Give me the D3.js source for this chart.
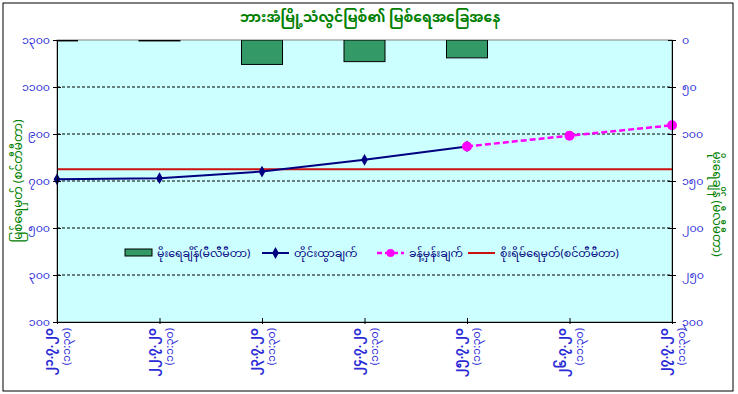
<!DOCTYPE html>
<html>
<head>
<meta charset="utf-8">
<script src="https://cdn.jsdelivr.net/npm/d3@7"></script>
<style>
  body { margin: 0; background: #fff; }
  svg text { font-family: "Noto Sans Myanmar", "Padauk", "Myanmar Text", "DejaVu Sans", sans-serif; }
</style>
</head>
<body>
<script>
// chart values
const dates = ['၂၁.၇.၂၀', '၂၂.၇.၂၀', '၂၃.၇.၂၀', '၂၄.၇.၂၀', '၂၅.၇.၂၀', '၂၆.၇.၂၀', '၂၇.၇.၂၀'];
const times = ['(၁၁:၃၀)', '(၁၁:၃၀)', '(၁၁:၃၀)', '(၁၁:၃၀)', '(၁၁:၃၀)', '(၁၁:၃၀)', '(၁၁:၃၀)'];
const rainfall = [1, 1, 26, 23, 19, null, null];       // mm, right axis
const observed = [707, 712, 740, 790, 847, null, null]; // cm
const forecast = [null, null, null, null, 847, 893, 937];
const dangerLevel = 750;
const leftTicks = [100, 300, 500, 700, 900, 1100, 1300];
const rightTicks = [0, 50, 100, 150, 200, 250, 300];
const seriesNames = ['မိုးရေချိန်(မီလီမီတာ)', 'တိုင်းထွာချက်', 'ခန့်မှန်းချက်', 'စိုးရိမ်ရေမှတ်(စင်တီမီတာ)'];
const title = 'ဘားအံမြို့သံလွင်မြစ်၏ မြစ်ရေအခြေအနေ';
const leftTitle = 'မြစ်ရေမှတ် (စင်တီမီတာ)';
const rightTitle = 'မိုးရေချိန် (မီလီမီတာ)';

const mm = n => String(n).replace(/[0-9]/g, d => String.fromCharCode(0x1040 + +d));

const width = 738, height = 394;
const margin = { top: 40, right: 66, bottom: 72, left: 57 };
const plotW = width - margin.left - margin.right;
const plotH = height - margin.top - margin.bottom;

const svg = d3.select('body').append('svg')
  .attr('width', width)
  .attr('height', height);

// outer frame
svg.append('rect')
  .attr('x', 3).attr('y', 3)
  .attr('width', 730).attr('height', 388)
  .attr('fill', '#fff')
  .attr('stroke', '#000')
  .attr('stroke-width', 1);

svg.append('text')
  .attr('x', 370).attr('y', 22)
  .attr('text-anchor', 'middle')
  .attr('fill', '#008000')
  .style('font-size', '14px')
  .style('font-weight', 'bold')
  .text(title);

const chart = svg.append('g')
  .attr('transform', `translate(${margin.left},${margin.top})`);

const x = d3.scalePoint()
  .domain(d3.range(dates.length))
  .range([0, plotW])
  .padding(0);

const yLeft = d3.scaleLinear().domain([100, 1300]).range([plotH, 0]);
const yRight = d3.scaleLinear().domain([0, 300]).range([0, plotH]);

chart.append('rect')
  .attr('width', plotW).attr('height', plotH)
  .attr('fill', '#ccffff')
  .attr('stroke', '#808080');

chart.append('clipPath').attr('id', 'plotclip')
  .append('rect').attr('width', plotW).attr('height', plotH);

// dashed gridlines
chart.append('g')
  .selectAll('line')
  .data(leftTicks.slice(1, -1))
  .join('line')
  .attr('x1', 0).attr('x2', plotW)
  .attr('y1', d => yLeft(d)).attr('y2', d => yLeft(d))
  .attr('stroke', '#000')
  .attr('stroke-dasharray', '3,2')
  .attr('stroke-width', 1);

// rainfall bars hanging from the top
const barW = 41;
chart.append('g')
  .attr('clip-path', 'url(#plotclip)')
  .selectAll('rect')
  .data(rainfall.map((v, i) => ({ i, v })).filter(d => d.v != null))
  .join('rect')
  .attr('x', d => x(d.i) - barW / 2)
  .attr('y', 0)
  .attr('width', barW)
  .attr('height', d => yRight(d.v))
  .attr('fill', '#339966')
  .attr('stroke', '#000')
  .attr('stroke-width', 1);

// danger level
chart.append('line')
  .attr('x1', 0).attr('x2', plotW)
  .attr('y1', yLeft(dangerLevel)).attr('y2', yLeft(dangerLevel))
  .attr('stroke', '#cc1111')
  .attr('stroke-width', 2);

const line = d3.line()
  .defined(d => d.v != null)
  .x(d => x(d.i))
  .y(d => yLeft(d.v));

const obsData = observed.map((v, i) => ({ i, v }));
const fcData = forecast.map((v, i) => ({ i, v }));

chart.append('path')
  .datum(fcData)
  .attr('d', line)
  .attr('fill', 'none')
  .attr('stroke', '#ff00ff')
  .attr('stroke-width', 2.5)
  .attr('stroke-dasharray', '6,3');

chart.append('path')
  .datum(obsData)
  .attr('d', line)
  .attr('fill', 'none')
  .attr('stroke', '#000080')
  .attr('stroke-width', 2);

const diamond = d3.symbol().type(d3.symbolDiamond).size(40);

chart.append('g')
  .selectAll('path')
  .data(obsData.filter(d => d.v != null))
  .join('path')
  .attr('d', diamond)
  .attr('transform', d => `translate(${x(d.i)},${yLeft(d.v)})`)
  .attr('fill', '#000080');

chart.append('g')
  .selectAll('circle')
  .data(fcData.filter(d => d.v != null && d.i > 3))
  .join('circle')
  .attr('cx', d => x(d.i))
  .attr('cy', d => yLeft(d.v))
  .attr('r', 5)
  .attr('fill', '#ff00ff');

// axes
const tickColor = '#2b2bd6';

const leftAxis = chart.append('g')
  .call(d3.axisLeft(yLeft).tickValues(leftTicks).tickSizeInner(4).tickSizeOuter(0).tickFormat(mm));
leftAxis.select('.domain').attr('stroke', '#000');
leftAxis.selectAll('.tick line').attr('x2', 4).attr('x1', -4).attr('stroke', '#000');
leftAxis.selectAll('.tick text').attr('x', -7).attr('fill', tickColor).style('font-size', '11px');

const rightAxis = chart.append('g')
  .attr('transform', `translate(${plotW},0)`)
  .call(d3.axisRight(yRight).tickValues(rightTicks).tickSizeInner(4).tickSizeOuter(0).tickFormat(mm));
rightAxis.select('.domain').attr('stroke', '#000');
rightAxis.selectAll('.tick line').attr('x1', -4).attr('x2', 4).attr('stroke', '#000');
rightAxis.selectAll('.tick text').attr('x', 10).attr('fill', tickColor).style('font-size', '11px');

const bottomAxis = chart.append('g')
  .attr('transform', `translate(0,${plotH})`)
  .call(d3.axisBottom(x).tickSizeInner(4).tickSizeOuter(0).tickFormat(''));
bottomAxis.select('.domain').attr('stroke', '#000');
bottomAxis.selectAll('.tick line').attr('y1', -4).attr('y2', 2).attr('stroke', '#000');

// rotated two-line category labels
const xLabels = chart.append('g')
  .selectAll('g')
  .data(dates.map((d, i) => ({ i, d, t: times[i] })))
  .join('g')
  .attr('transform', d => `translate(${x(d.i)},${plotH + 6}) rotate(-90)`);

xLabels.append('text')
  .attr('text-anchor', 'end')
  .attr('y', -4)
  .attr('fill', tickColor)
  .style('font-size', '12px')
  .style('font-weight', 'bold')
  .text(d => d.d);

xLabels.append('text')
  .attr('text-anchor', 'end')
  .attr('y', 13)
  .attr('fill', tickColor)
  .style('font-size', '11px')
  .text(d => d.t);

// axis titles
svg.append('text')
  .attr('transform', `translate(22,${margin.top + plotH / 2}) rotate(-90)`)
  .attr('text-anchor', 'middle')
  .attr('fill', '#008000')
  .style('font-size', '12px')
  .text(leftTitle);

svg.append('text')
  .attr('transform', `translate(713,204) rotate(90)`)
  .attr('text-anchor', 'middle')
  .attr('fill', '#008000')
  .style('font-size', '12px')
  .text(rightTitle);

// legend
const legend = svg.append('g').attr('transform', 'translate(125,253)');
const legendX = [0, 137, 252, 343];

const items = legend.selectAll('g')
  .data(seriesNames)
  .join('g')
  .attr('transform', (d, i) => `translate(${legendX[i]},0)`);

items.append('text')
  .attr('x', 32).attr('y', 4)
  .attr('fill', '#000080')
  .style('font-size', '11px')
  .text(d => d);

items.filter((d, i) => i === 0).append('rect')
  .attr('x', 0).attr('y', -4).attr('width', 27).attr('height', 7)
  .attr('fill', '#339966').attr('stroke', '#000');

items.filter((d, i) => i === 1).append('line')
  .attr('x1', 0).attr('x2', 27).attr('stroke', '#000080').attr('stroke-width', 2);
items.filter((d, i) => i === 1).append('path')
  .attr('d', diamond).attr('transform', 'translate(13.5,0)').attr('fill', '#000080');

items.filter((d, i) => i === 2).append('line')
  .attr('x1', 0).attr('x2', 27).attr('stroke', '#ff00ff').attr('stroke-width', 2.5).attr('stroke-dasharray', '5,3');
items.filter((d, i) => i === 2).append('circle')
  .attr('cx', 13.5).attr('r', 4).attr('fill', '#ff00ff');

items.filter((d, i) => i === 3).append('line')
  .attr('x1', 0).attr('x2', 27).attr('stroke', '#cc1111').attr('stroke-width', 2);
</script>
</body>
</html>
